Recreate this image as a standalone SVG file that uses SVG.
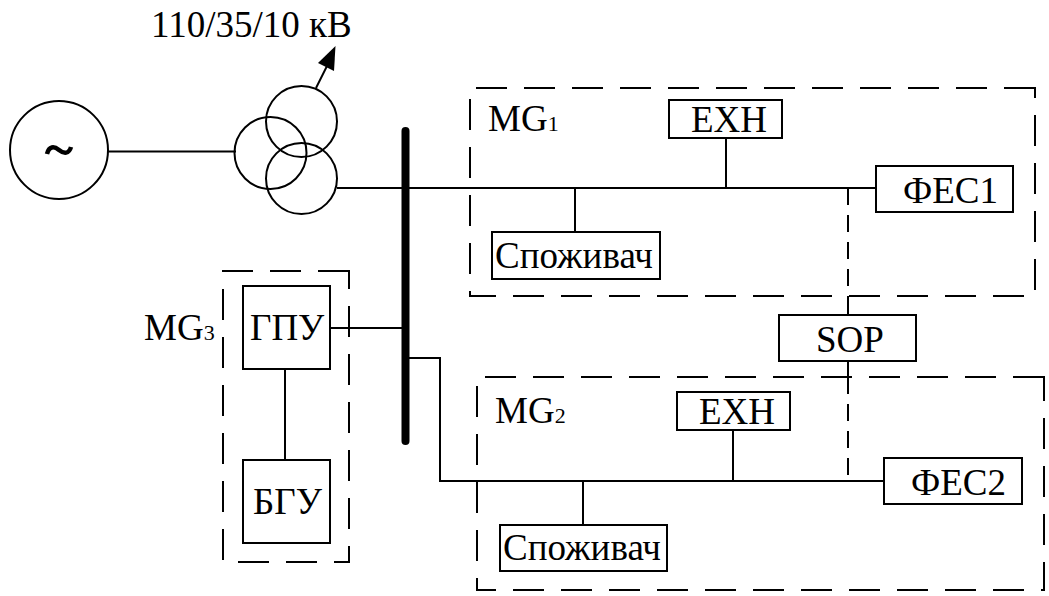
<svg xmlns="http://www.w3.org/2000/svg" width="1049" height="596" viewBox="0 0 1049 596">
<style>
.l{fill:none;stroke:#000;stroke-width:2}
.d{fill:none;stroke:#000;stroke-width:2;stroke-dasharray:31 17}
.e{fill:none;stroke:#000;stroke-width:2;stroke-dasharray:17 10}
.b{fill:#fff;stroke:#000;stroke-width:2}
.n{fill:none;stroke:#000;stroke-width:2}
text{font-family:"Liberation Serif","Times New Roman",serif;font-size:37px;fill:#000}
.s{font-size:22px}
</style>
<rect width="1049" height="596" fill="#fff"/>
<g id="regions">
<path class="d" d="M1035 88H470V296H1035Z"/>
<path class="d" d="M1044 377H477V590H1044Z"/>
<path class="d" d="M349 271H223V562H349Z"/>
</g>
<g id="connectors">
<path class="l" d="M108 151.500H236"/>
<path class="l" d="M337 188H876"/>
<path class="l" d="M575 188V232"/>
<path class="l" d="M726 138V188"/>
<path class="l" d="M330 328H405"/>
<path class="l" d="M405 358H440V481H884"/>
<path class="l" d="M733 430V481"/>
<path class="l" d="M583 481V525"/>
<path class="l" d="M285 369V460"/>
<path class="l" d="M848 296V315M848 361V377"/>
<path class="e" d="M848 188V296"/>
<path class="e" d="M848 377V482"/>
<path class="l" d="M316 88L328 64"/>
<path d="M335.500 46L334 71L318 63Z" fill="#000"/>
</g>
<g id="bus"><path d="M405.500 131V441" fill="none" stroke="#000" stroke-width="8" stroke-linecap="round"/></g>
<g id="generator"><circle class="n" cx="59" cy="150" r="49"/><path d="M47 154C49 146 54 146 59 150C64 154 69 154 71 147" fill="none" stroke="#000" stroke-width="4.500"/></g>
<g id="transformer">
<circle class="n" cx="270.500" cy="153" r="36"/>
<circle class="n" cx="301.500" cy="121.500" r="35.500"/>
<circle class="n" cx="301.500" cy="178.500" r="35.500"/>
</g>
<g id="label-voltage"><text x="151" y="37">110/35/10 кВ</text></g>
<g id="label-mg1"><text x="488" y="131">MG<tspan class="s">1</tspan></text></g>
<g id="label-mg2"><text x="495" y="423">MG<tspan class="s">2</tspan></text></g>
<g id="label-mg3"><text x="144" y="340">MG<tspan class="s">3</tspan></text></g>
<g id="exh1"><rect class="b" x="669" y="100" width="113" height="38"/><text x="691" y="132">ЕХН</text></g>
<g id="fes1"><rect class="b" x="876" y="166" width="137" height="46"/><text x="903" y="203">ФЕС1</text></g>
<g id="load1"><rect class="b" x="492" y="232" width="168" height="47"/><text x="495" y="268">Споживач</text></g>
<g id="sop"><rect class="b" x="779" y="315" width="137" height="46"/><text x="816" y="352">SOP</text></g>
<g id="exh2"><rect class="b" x="677" y="392" width="113" height="38"/><text x="699" y="424">ЕХН</text></g>
<g id="fes2"><rect class="b" x="884" y="458" width="138" height="46"/><text x="911" y="495">ФЕС2</text></g>
<g id="load2"><rect class="b" x="500" y="525" width="167" height="46"/><text x="503" y="560">Споживач</text></g>
<g id="gpu"><rect class="b" x="243" y="286" width="87" height="83"/><text x="250" y="340">ГПУ</text></g>
<g id="bgu"><rect class="b" x="243" y="460" width="87" height="83"/><text x="253" y="514">БГУ</text></g>
</svg>
